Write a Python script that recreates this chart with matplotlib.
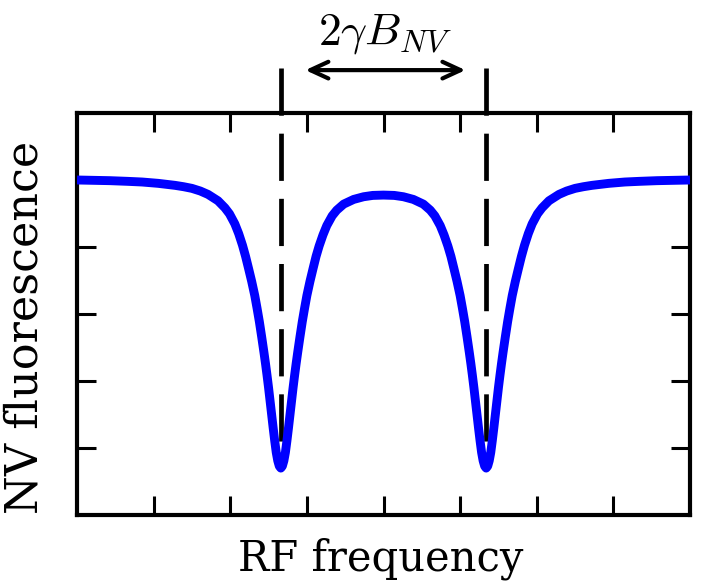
import matplotlib
matplotlib.use("Agg")
import matplotlib.pyplot as plt

plt.rcParams["mathtext.fontset"] = "cm"

# Fluorescence trace sampled along the sweep (arbitrary units)
freq = [0.00, 0.43, 0.66, 0.85, 1.06, 1.28, 1.39, 1.50, 1.61, 1.71, 1.84, 1.93,
        1.99, 2.06, 2.11, 2.16, 2.20, 2.24, 2.28, 2.32, 2.35, 2.38, 2.41, 2.44,
        2.46, 2.48, 2.50, 2.52, 2.54, 2.56, 2.58, 2.60, 2.62, 2.64, 2.66,
        2.68, 2.70, 2.72, 2.74, 2.76, 2.78, 2.80, 2.82, 2.84, 2.86, 2.88, 2.91,
        2.94, 2.97, 3.00, 3.04, 3.08, 3.12, 3.16, 3.21, 3.26, 3.33, 3.39, 3.48,
        3.61, 3.74, 3.86, 4.00,
        4.14, 4.26, 4.39, 4.52, 4.61, 4.67, 4.74, 4.79, 4.84, 4.88, 4.92, 4.96,
        5.00, 5.03, 5.06, 5.09, 5.12, 5.14, 5.16, 5.18, 5.20, 5.22, 5.24, 5.26,
        5.28, 5.30, 5.32, 5.34,
        5.36, 5.38, 5.40, 5.42, 5.44, 5.46, 5.48, 5.50, 5.52, 5.54, 5.56, 5.59,
        5.62, 5.65, 5.68, 5.72, 5.76, 5.80, 5.84, 5.89, 5.94, 6.01, 6.07, 6.16,
        6.29, 6.39, 6.50, 6.61, 6.72, 6.94, 7.15, 7.34, 7.57, 8.00]
fluor = [1.000, 0.998, 0.996, 0.994, 0.990, 0.984, 0.980, 0.975, 0.967, 0.957,
         0.938, 0.917, 0.899, 0.869, 0.840, 0.805, 0.772, 0.735, 0.697, 0.655,
         0.617, 0.577, 0.532, 0.485, 0.452, 0.417, 0.380, 0.340, 0.300, 0.260,
         0.222, 0.187, 0.162, 0.146, 0.140,
         0.146, 0.162, 0.187, 0.222, 0.260, 0.300, 0.340, 0.380, 0.417, 0.452,
         0.485, 0.532, 0.577, 0.617, 0.655, 0.697, 0.735, 0.772, 0.803, 0.836,
         0.864, 0.893, 0.910, 0.928, 0.942, 0.950, 0.954, 0.955,
         0.954, 0.950, 0.942, 0.928, 0.910, 0.893, 0.864, 0.836, 0.803, 0.772,
         0.735, 0.697, 0.655, 0.617, 0.577, 0.532, 0.485, 0.452, 0.417, 0.380,
         0.340, 0.300, 0.260, 0.222, 0.187, 0.162, 0.146, 0.140,
         0.146, 0.162, 0.187, 0.222, 0.260, 0.300, 0.340, 0.380, 0.417, 0.452,
         0.485, 0.532, 0.577, 0.617, 0.655, 0.697, 0.735, 0.772, 0.805, 0.840,
         0.869, 0.899, 0.917, 0.938, 0.957, 0.967, 0.975, 0.980, 0.984, 0.990,
         0.994, 0.996, 0.998, 1.000]

# Resonance positions and marker geometry
dip_freqs = [2.66, 5.34]
dip_min = 0.140
marker_top = 1.334
arrow_span = [2.98, 5.07]
arrow_y = 1.328

x_ticks = [1, 2, 3, 4, 5, 6, 7]
y_ticks = [0.2, 0.4, 0.6, 0.8, 1.0]

fig = plt.figure(figsize=(7.02, 5.84), dpi=100)
ax = fig.add_axes([77 / 702, 1 - 515 / 584, 613 / 702, 402 / 584])

ax.plot(freq, fluor, color="#0000ff", lw=6.4, solid_joinstyle="round",
        solid_capstyle="butt", zorder=3)

for xd in dip_freqs:
    ax.plot([xd, xd], [marker_top, dip_min], color="black", lw=3.4,
            linestyle=(0, (10, 3.8)), dash_capstyle="butt", clip_on=False,
            zorder=2)

ax.annotate("", xy=(arrow_span[0], arrow_y), xytext=(arrow_span[1], arrow_y),
            annotation_clip=False,
            arrowprops=dict(arrowstyle="<->,head_length=0.65,head_width=0.3",
                            lw=3, color="black", shrinkA=0, shrinkB=0,
                            mutation_scale=20))

fig.text(385 / 702, 1 - 33 / 584, r"$2\mathrm{\gamma}B_{NV}$", fontsize=33,
         ha="center", va="center")

ax.set_xlim(0, 8)
ax.set_ylim(0, 1.2)
ax.set_xticks(x_ticks)
ax.set_yticks(y_ticks)
ax.tick_params(direction="in", length=14, width=2.2, top=True, right=True,
               labelbottom=False, labelleft=False)
for sp in ax.spines.values():
    sp.set_linewidth(3)

fig.text(381 / 702, 1 - 559 / 584, "RF frequency", family="DejaVu Serif",
         fontsize=30, ha="center", va="center")
fig.text(25 / 702, 1 - 327 / 584, "NV fluorescence", family="DejaVu Serif",
         fontsize=32, rotation=90, ha="center", va="center")

fig.savefig("out.png", dpi=100)
